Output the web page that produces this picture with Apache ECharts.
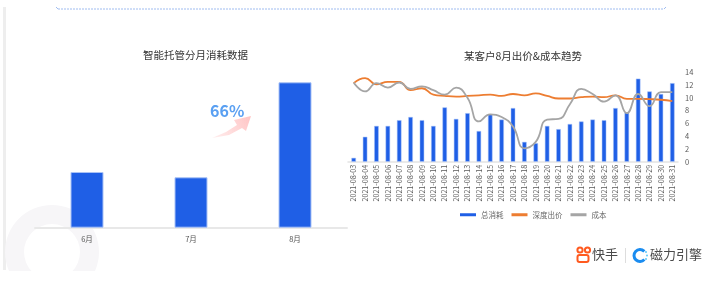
<!DOCTYPE html>
<html><head><meta charset="utf-8">
<script src="https://cdn.jsdelivr.net/npm/echarts@6/dist/echarts.min.js"></script>
<style>html,body{margin:0;padding:0;background:#fff}#c{width:724px;height:283px}</style>
</head><body><div id="c"></div>
<script>
const leftTitle = '智能托管分月消耗数据';
const rightTitle = '某客户8月出价&成本趋势';
const monthCats = ['6月', '7月', '8月'];
const monthSpend = [55.7, 50.4, 145.4];
const growthText = '66%';
const dates = ['2021-08-03','2021-08-04','2021-08-05','2021-08-06','2021-08-07','2021-08-08','2021-08-09','2021-08-10','2021-08-11','2021-08-12','2021-08-13','2021-08-14','2021-08-15','2021-08-16','2021-08-17','2021-08-18','2021-08-19','2021-08-20','2021-08-21','2021-08-22','2021-08-23','2021-08-24','2021-08-25','2021-08-26','2021-08-27','2021-08-28','2021-08-29','2021-08-30','2021-08-31'];
const totalSpend = [0.6,3.9,5.6,5.6,6.5,7.0,6.5,5.6,8.5,6.7,7.6,4.8,7.4,6.6,8.4,3.1,2.9,5.6,5.1,5.9,6.3,6.6,6.5,8.4,7.7,13.0,11.0,10.6,12.3];
const deepBid = [12.3,13.1,12.1,12.5,12.5,11.2,11.5,10.5,10.3,10.2,10.3,10.4,10.5,10.3,10.6,10.4,10.7,10.3,9.9,9.9,10.1,10.2,10.1,10.4,9.85,9.85,9.8,9.7,9.5];
const cost = [12.4,11.0,12.3,11.6,12.4,11.4,11.8,11.2,10.5,11.6,10.0,6.3,7.4,7.0,5.5,2.1,3.1,6.6,6.7,9.0,11.4,10.6,9.4,10.4,7.6,10.6,8.7,10.9,10.9];
const yTicks = {min: 0, max: 14, interval: 2};
const legendNames = ['总消耗', '深度出价', '成本'];

const FONT = '"Noto Sans CJK SC", "Noto Sans", sans-serif';
const BLUE = '#1F5FE6';
const chart = echarts.init(document.getElementById('c'));
chart.setOption({
  animation: false,
  textStyle: {fontFamily: FONT},
  title: [
    {text: leftTitle, left: 190.5, top: 45, textAlign: 'center',
     textStyle: {fontSize: 10.5, fontWeight: 'normal', color: '#333', fontFamily: FONT}},
    {text: rightTitle, left: 518, top: 46, textAlign: 'center',
     textStyle: {fontSize: 10.5, fontWeight: 'normal', color: '#333', fontFamily: FONT}}
  ],
  legend: {
    data: [
      {name: legendNames[0], icon: 'rect', itemStyle: {borderWidth: 0}},
      {name: legendNames[1], icon: 'rect'},
      {name: legendNames[2], icon: 'rect'}
    ],
    left: 455, top: 206, itemWidth: 16, itemHeight: 3, itemGap: 8,
    textStyle: {fontSize: 7.5, color: '#666', fontFamily: FONT}
  },
  grid: [
    {left: 35, width: 312, top: 67.7, bottom: 55.3},
    {left: 348, right: 46, top: 72.3, bottom: 121.3}
  ],
  xAxis: [
    {gridIndex: 0, type: 'category', data: monthCats,
     axisLine: {lineStyle: {color: '#e8e8e8', width: 2}}, axisTick: {show: false},
     axisLabel: {fontSize: 7.5, color: '#555', margin: 8, fontFamily: FONT}},
    {gridIndex: 1, type: 'category', data: dates,
     axisLine: {lineStyle: {color: '#e3e3e3', width: 1.5}}, axisTick: {show: false},
     axisLabel: {rotate: 90, interval: 0, fontSize: 7.2, color: '#595959', margin: 3, fontFamily: FONT}}
  ],
  yAxis: [
    {gridIndex: 0, type: 'value', min: 0, max: 160, show: false},
    {gridIndex: 1, type: 'value', position: 'right', min: yTicks.min, max: yTicks.max, interval: yTicks.interval,
     axisLine: {show: false}, axisTick: {show: false}, splitLine: {show: false},
     axisLabel: {fontSize: 7.5, color: '#595959', margin: 7, fontFamily: FONT}}
  ],
  series: [
    {name: '月消耗', type: 'bar', xAxisIndex: 0, yAxisIndex: 0, data: monthSpend, barWidth: 33,
     itemStyle: {color: BLUE, borderColor: '#a9c2f6', borderWidth: 1}},
    {name: legendNames[0], type: 'bar', xAxisIndex: 1, yAxisIndex: 1, data: totalSpend, barWidth: 4.5,
     itemStyle: {color: BLUE, borderColor: '#a9c2f6', borderWidth: 0.5}},
    {name: legendNames[1], type: 'line', xAxisIndex: 1, yAxisIndex: 1, data: deepBid, smooth: 0.5,
     showSymbol: false, symbol: 'none', lineStyle: {color: '#ED7D31', width: 1.8}, itemStyle: {color: '#ED7D31'}},
    {name: legendNames[2], type: 'line', xAxisIndex: 1, yAxisIndex: 1, data: cost, smooth: 0.5,
     showSymbol: false, symbol: 'none', lineStyle: {color: '#A5A5A5', width: 1.8}, itemStyle: {color: '#A5A5A5'}}
  ],
  graphic: [
    {type: 'rect', shape: {x: 3, y: 7, width: 3, height: 263}, style: {fill: '#eeeeee'}, z: -10},
    {type: 'ring', shape: {cx: 52, cy: 252, r: 47, r0: 28}, style: {fill: '#f7f6f8'}, z: -10},
    {type: 'rect', shape: {x: 0, y: 271, width: 340, height: 12}, style: {fill: '#ffffff'}, z: -9},
    {type: 'line', shape: {x1: 58, y1: 9, x2: 664, y2: 9}, style: {stroke: '#9fbcf0', lineWidth: 1, lineDash: [2, 1]}},
    {type: 'polyline', shape: {points: [[56, 7], [58, 9]]}, style: {stroke: '#9fbcf0', lineWidth: 1}},
    {type: 'polyline', shape: {points: [[664, 9], [666, 7]]}, style: {stroke: '#9fbcf0', lineWidth: 1}},
    {type: 'polygon', shape: {points: [[212, 138], [226, 132], [237, 125], [234, 120], [251, 116], [246, 131], [242, 128], [229, 135]]},
     style: {fill: new echarts.graphic.LinearGradient(0, 1, 1, 0, [{offset: 0, color: 'rgba(255,200,200,0.3)'}, {offset: 1, color: '#ffc4c4'}])}},
    {type: 'text', left: 210, top: 103, style: {text: growthText, font: 'bold 16px ' + FONT, fill: '#5aa0f2'}},
    {type: 'ring', shape: {cx: 580, cy: 250, r: 3.6, r0: 1.6}, style: {fill: '#ff5a1f'}},
    {type: 'ring', shape: {cx: 587.5, cy: 250, r: 3.6, r0: 1.6}, style: {fill: '#ff5a1f'}},
    {type: 'rect', shape: {x: 577.5, y: 255, width: 11, height: 7, r: 2}, style: {fill: 'none', stroke: '#ff5a1f', lineWidth: 2}},
    {type: 'text', left: 592, top: 248, style: {text: '快手', font: '13px ' + FONT, fill: '#4a4a4a'}},
    {type: 'line', shape: {x1: 625.5, y1: 248, x2: 625.5, y2: 263}, style: {stroke: '#dddddd', lineWidth: 1}},
    {type: 'sector', shape: {cx: 640, cy: 255.5, r: 7.5, r0: 4.5, startAngle: 0.75, endAngle: 5.53}, style: {fill: '#1a8cf0'}},
    {type: 'circle', shape: {cx: 646, cy: 252, r: 0.9}, style: {fill: '#4fc3f7'}},
    {type: 'circle', shape: {cx: 647, cy: 255.5, r: 0.9}, style: {fill: '#4fc3f7'}},
    {type: 'circle', shape: {cx: 646, cy: 259, r: 0.9}, style: {fill: '#4fc3f7'}},
    {type: 'text', left: 650, top: 248, style: {text: '磁力引擎', font: '13px ' + FONT, fill: '#4a4a4a'}}
  ]
});
</script></body></html>
